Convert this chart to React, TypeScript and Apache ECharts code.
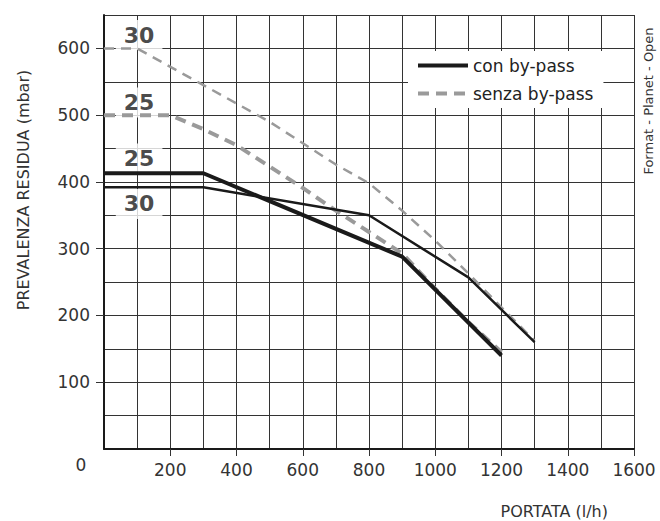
import React, { useEffect, useRef } from "react";
import * as echarts from "echarts";

// Data: [portata l/h, prevalenza mbar]
const conBypass25: [number, number][] = [[0, 413], [300, 413], [900, 288], [1200, 140]];
const conBypass30: [number, number][] = [[0, 392], [300, 392], [800, 350], [1100, 257], [1300, 160]];
const senzaBypass25: [number, number][] = [
  [0, 500], [200, 500], [300, 479], [400, 455], [500, 423], [600, 391], [700, 357],
  [800, 325], [900, 293], [1000, 240], [1100, 190], [1200, 145],
];
const senzaBypass30: [number, number][] = [
  [0, 600], [100, 600], [300, 545], [500, 490], [700, 426], [800, 398], [900, 357],
  [1000, 312], [1100, 263], [1200, 212], [1300, 162],
];

const xTickValues = [200, 400, 600, 800, 1000, 1200, 1400, 1600];
const yTickValues = [100, 200, 300, 400, 500, 600];

const curveLabelText = ["30", "25", "25", "30"];
const curveLabelPos: [number, number][] = [[106, 620], [106, 519], [106, 435], [106, 367]];

const legendNames = ["con by-pass", "senza by-pass"];

const FONT = "DejaVu Sans";

export default function App() {
  const ref = useRef<HTMLDivElement>(null);
  useEffect(() => {
    if (!ref.current) return;
    const chart = echarts.init(ref.current, undefined, { renderer: "svg" });
    const black = "#1a1a1a";
    const gray = "#9a9a9a";
    const gridLine = { color: "#333", width: 1 };
    chart.setOption({
      animation: false,
      backgroundColor: "#fff",
      grid: { left: 104, right: 26, top: 15, bottom: 72 },
      legend: {
        data: legendNames,
        orient: "vertical",
        left: 408,
        top: 51,
        itemWidth: 50,
        itemHeight: 14,
        itemGap: 11,
        backgroundColor: "#fff",
        padding: [6, 10, 6, 8],
        itemStyle: { opacity: 0 },
        lineStyle: { width: 4 },
        textStyle: { fontFamily: FONT, fontSize: 17, color: "#222" },
      },
      xAxis: [
        {
          type: "value",
          min: 0,
          max: 1600,
          axisLine: { show: true, lineStyle: { color: black, width: 2 } },
          axisTick: { show: true, customValues: xTickValues, length: 7, lineStyle: { color: "#333", width: 1 } },
          axisLabel: {
            customValues: xTickValues,
            formatter: (v: number) => String(v),
            margin: 12,
            fontFamily: FONT,
            fontSize: 17,
            color: "#333",
          },
          splitLine: { show: false },
        },
        {
          type: "value",
          min: 0,
          max: 1600,
          interval: 100,
          axisLine: { show: false },
          axisTick: { show: false },
          axisLabel: { show: false },
          splitLine: { show: true, lineStyle: gridLine },
        },
      ],
      yAxis: [
        {
          type: "value",
          min: 0,
          max: 650,
          axisLine: { show: true, lineStyle: { color: black, width: 2 } },
          axisTick: { show: true, customValues: yTickValues, length: 8, lineStyle: { color: "#333", width: 1 } },
          axisLabel: {
            customValues: yTickValues,
            formatter: (v: number) => String(v),
            margin: 14,
            fontFamily: FONT,
            fontSize: 17,
            color: "#333",
          },
          splitLine: { show: false },
        },
        {
          type: "value",
          min: 0,
          max: 650,
          interval: 50,
          axisLine: { show: false },
          axisTick: { show: false },
          axisLabel: { show: false },
          splitLine: { show: true, lineStyle: gridLine },
        },
      ],
      graphic: [
        {
          type: "text",
          x: 81,
          y: 465,
          style: { text: "0", fontFamily: FONT, fontSize: 17, fill: "#333", textAlign: "center", textVerticalAlign: "middle" },
        },
        {
          type: "text",
          x: 23,
          y: 190,
          rotation: Math.PI / 2,
          style: {
            text: "PREVALENZA RESIDUA (mbar)",
            fontFamily: FONT,
            fontSize: 16,
            fill: "#333",
            textAlign: "center",
            textVerticalAlign: "middle",
          },
        },
        {
          type: "text",
          x: 608,
          y: 511,
          style: {
            text: "PORTATA (l/h)",
            fontFamily: FONT,
            fontSize: 16,
            fill: "#333",
            textAlign: "right",
            textVerticalAlign: "middle",
          },
        },
        {
          type: "text",
          x: 648,
          y: 101,
          rotation: Math.PI / 2,
          style: {
            text: "Format - Planet - Open",
            fontFamily: FONT,
            fontSize: 13,
            fill: "#333",
            textAlign: "center",
            textVerticalAlign: "middle",
          },
        },
      ],
      series: [
        {
          name: legendNames[0],
          type: "line",
          xAxisIndex: 0,
          yAxisIndex: 0,
          data: conBypass25,
          symbol: "none",
          z: 4,
          lineStyle: { color: black, width: 4 },
          itemStyle: { color: black },
        },
        {
          name: legendNames[1],
          type: "line",
          xAxisIndex: 0,
          yAxisIndex: 0,
          data: senzaBypass25,
          symbol: "none",
          z: 3,
          lineStyle: { color: gray, width: 4, type: [11, 7] },
          itemStyle: { color: gray },
        },
        {
          name: legendNames[0],
          type: "line",
          xAxisIndex: 0,
          yAxisIndex: 0,
          data: conBypass30,
          symbol: "none",
          z: 4,
          lineStyle: { color: black, width: 2.5 },
          itemStyle: { color: black },
        },
        {
          name: legendNames[1],
          type: "line",
          xAxisIndex: 0,
          yAxisIndex: 0,
          data: senzaBypass30,
          symbol: "none",
          z: 3,
          lineStyle: { color: gray, width: 2.5, type: [10, 7] },
          itemStyle: { color: gray },
        },
        {
          name: "labels",
          type: "scatter",
          xAxisIndex: 0,
          yAxisIndex: 0,
          silent: true,
          z: 1,
          symbolSize: 0,
          data: curveLabelPos.map((p, i) => ({ value: p, name: curveLabelText[i] })),
          label: {
            show: true,
            position: "inside",
            formatter: (p: any) => p.name,
            fontFamily: FONT,
            fontSize: 22,
            fontWeight: "bold",
            color: "#1a1a1a",
            backgroundColor: "#fff",
            padding: [4, 8],
          },
        },
      ],
    });
    return () => chart.dispose();
  }, []);
  return (
    <div
      ref={ref}
      style={{ position: "fixed", left: 0, top: 0, width: 660, height: 521, background: "#fff" }}
    />
  );
}
